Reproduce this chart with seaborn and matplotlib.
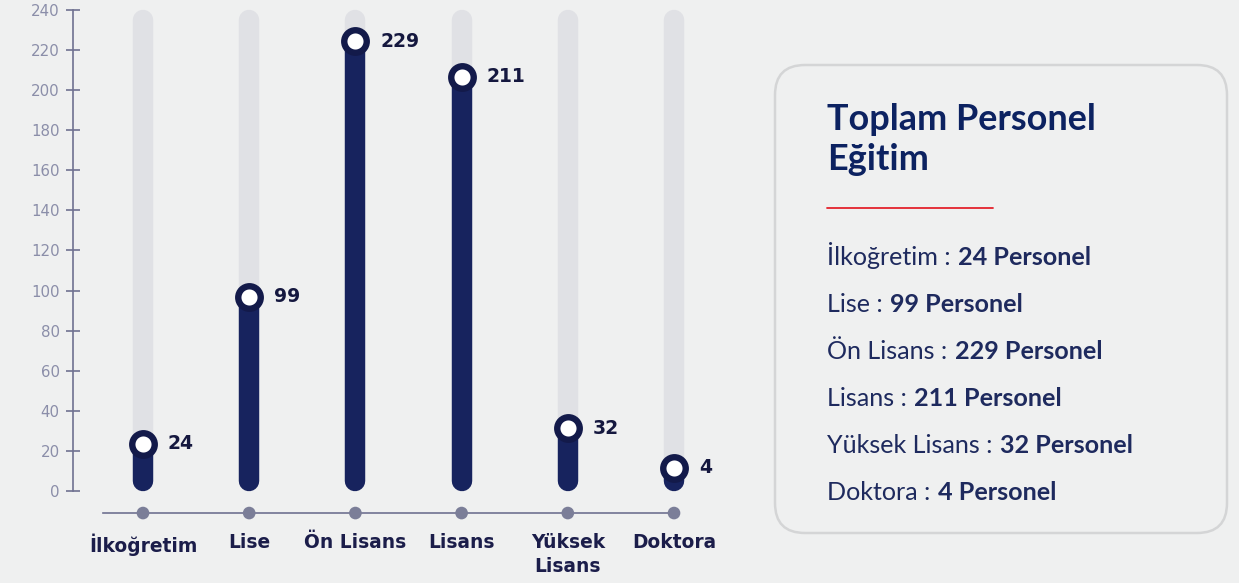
import numpy as np
import pandas as pd
import matplotlib
matplotlib.use("Agg")
import matplotlib.pyplot as plt
from matplotlib.patches import FancyBboxPatch
import seaborn as sns

# ---------------- data ----------------
categories = ["İlkoğretim", "Lise", "Ön Lisans", "Lisans", "Yüksek Lisans", "Doktora"]
category_labels = ["İlkoğretim", "Lise", "Ön Lisans", "Lisans", "Yüksek\nLisans", "Doktora"]
values = [24, 99, 229, 211, 32, 4]
y_ticks = [0, 20, 40, 60, 80, 100, 120, 140, 160, 180, 200, 220, 240]
panel_title = ["Toplam Personel", "Eğitim"]
unit_word = "Personel"

# ---------------- style ----------------
BG = "#eff0f0"
TRACK = "#e0e1e5"
NAVY = "#17235e"
RING = "#131a4a"
AXIS = "#6f7191"
TICK = "#8b8ea9"
DOT = "#7b7e98"
CAT = "#1b1d4a"
VAL = "#15183f"
TITLE = "#0c2261"
LIST = "#1e2a5e"
RED = "#e3232c"
BORDER = "#d4d5d6"

sns.set_style("white", rc={"axes.facecolor": BG, "figure.facecolor": BG})
plt.rcParams["font.family"] = ["DejaVu Sans"]

W, H = 1239, 583
fig = plt.figure(figsize=(W / 100, H / 100), dpi=100)
fig.patch.set_facecolor(BG)

# ---------------- chart axes ----------------
ax = fig.add_axes([73 / W, 1 - 530 / H, (720 - 73) / W, (530 - 5) / H])
ax.patch.set_alpha(0)

df = pd.DataFrame({"cat": categories, "label": category_labels, "value": values})
df["x"] = np.arange(len(df))
df["marker_y"] = np.maximum(df["value"] * 0.98, 11.5)

ymax = y_ticks[-1]
cap = 5.1
for x, my in zip(df["x"], df["marker_y"]):
    ax.plot([x, x], [cap, ymax - cap], color=TRACK, lw=14.7,
            solid_capstyle="round", zorder=1)
    ax.plot([x, x], [cap, my], color=NAVY, lw=14.7,
            solid_capstyle="round", zorder=2)

sns.scatterplot(data=df, x="x", y="marker_y", s=262, color="white",
                edgecolor=RING, linewidth=4.6, zorder=4, ax=ax, legend=False)

base_y = -11
sns.scatterplot(x=df["x"], y=np.full(len(df), base_y), s=83, color=DOT,
                edgecolor="none", zorder=3, ax=ax, legend=False, clip_on=False)

for x, my, v in zip(df["x"], df["marker_y"], df["value"]):
    ax.annotate(str(v), (x, my), xytext=(18, 0), textcoords="offset points",
                va="center", ha="left", fontweight="bold", color=VAL,
                fontsize=13.5)

ax.set_xlim(-0.659, 5.433)
ax.set_ylim(-19.46, 242.49)
ax.set_xlabel("")
ax.set_ylabel("")

for s in ["top", "right"]:
    ax.spines[s].set_visible(False)
ax.spines["left"].set_bounds(0, ymax)
ax.spines["left"].set_color(AXIS)
ax.spines["left"].set_linewidth(1.2)
ax.spines["bottom"].set_position(("data", base_y))
ax.spines["bottom"].set_bounds(-0.377, len(df) - 1)
ax.spines["bottom"].set_color(AXIS)
ax.spines["bottom"].set_linewidth(1.2)

ax.set_yticks(y_ticks)
ax.set_yticklabels([str(t) for t in y_ticks])
ax.tick_params(axis="y", left=True, direction="inout", length=9.4, width=1.2,
               color=AXIS, labelcolor=TICK, labelsize=10.8, pad=5)
ax.set_xticks(df["x"])
ax.set_xticklabels(df["label"])
ax.tick_params(axis="x", bottom=False, length=0, pad=14.5, labelcolor=CAT,
               labelsize=13.4)
for t in ax.get_xticklabels():
    t.set_fontweight("bold")
    t.set_linespacing(1.3)

# ---------------- right panel ----------------
ax2 = fig.add_axes([0, 0, 1, 1], zorder=-1)
ax2.set_xlim(0, W)
ax2.set_ylim(H, 0)
ax2.axis("off")

box = FancyBboxPatch((775, 65), 452, 468,
                     boxstyle="round,pad=0,rounding_size=30",
                     facecolor=BG, edgecolor=BORDER, linewidth=1.8)
ax2.add_patch(box)

renderer = fig.canvas.get_renderer()
PFONT = ["Lato", "DejaVu Sans"]


def width_px(t):
    return t.get_window_extent(renderer).width


# title, fitted to target width
t1 = ax2.text(827, 130, panel_title[0], fontsize=20, fontweight="bold",
              color=TITLE, family=PFONT, va="baseline", ha="left")
fs_title = 20 * 268 / width_px(t1)
t1.set_fontsize(fs_title)
ax2.text(827, 170, panel_title[1], fontsize=fs_title, fontweight="bold",
         color=TITLE, family=PFONT, va="baseline", ha="left")

ax2.plot([827, 993], [208, 208], color=RED, lw=1.3)


def draw_item(cat, val, y, fs):
    a = ax2.text(827, y, f"{cat} :", fontsize=fs, color=LIST, family=PFONT,
                 va="baseline", ha="left")
    wa = width_px(a)
    gap = fs * 0.42
    b = ax2.text(827 + wa + gap, y, f"{val} {unit_word}", fontsize=fs,
                 fontweight="bold", color=LIST, family=PFONT,
                 va="baseline", ha="left")
    return a, b, wa + gap + width_px(b)


# probe for list font size using the longest item
a, b, wt = draw_item(categories[4], values[4], 0, 14)
a.remove(); b.remove()
fs_list = 14 * 308 / wt

for i, (c, v) in enumerate(zip(categories, values)):
    draw_item(c, v, 265 + i * 47.1, fs_list)

fig.savefig("out.png", dpi=100, facecolor=BG)
